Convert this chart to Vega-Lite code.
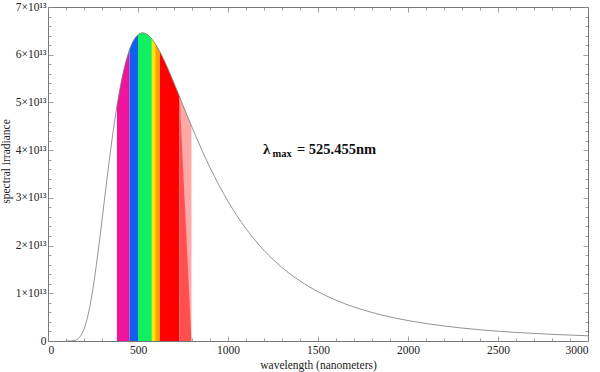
{
  "$schema": "https://vega.github.io/schema/vega-lite/v6.json",
  "width": 540,
  "height": 334,
  "autosize": {"type": "none"},
  "padding": {"left": 48, "top": 7, "right": 12, "bottom": 31},
  "background": "white",
  "config": {
    "view": {"stroke": "#777", "strokeWidth": 1},
    "axis": {"grid": false, "domain": false, "tickColor": "#888", "tickWidth": 0.8, "labelFont": "Liberation Serif", "titleFont": "Liberation Serif", "labelColor": "#222", "titleColor": "#222", "labelFontSize": 11.5, "titleFontSize": 11.5, "titleFontWeight": "normal"}
  },
  "datasets": {
    "curve": [
      {"wavelength": 100, "irradiance": 0},
      {"wavelength": 125, "irradiance": 1.04e10},
      {"wavelength": 150, "irradiance": 1.357e11},
      {"wavelength": 175, "irradiance": 7.518e11},
      {"wavelength": 200, "irradiance": 2.4864e12},
      {"wavelength": 225, "irradiance": 5.8803e12},
      {"wavelength": 250, "irradiance": 1.10691e13},
      {"wavelength": 275, "irradiance": 1.7754e13},
      {"wavelength": 300, "irradiance": 2.53316e13},
      {"wavelength": 325, "irradiance": 3.3154e13},
      {"wavelength": 350, "irradiance": 4.06134e13},
      {"wavelength": 375, "irradiance": 4.73085e13},
      {"wavelength": 400, "irradiance": 5.29365e13},
      {"wavelength": 425, "irradiance": 5.74333e13},
      {"wavelength": 450, "irradiance": 6.07369e13},
      {"wavelength": 475, "irradiance": 6.29682e13},
      {"wavelength": 500, "irradiance": 6.41866e13},
      {"wavelength": 525, "irradiance": 6.46e13},
      {"wavelength": 550, "irradiance": 6.4277e13},
      {"wavelength": 577, "irradiance": 6.32886e13},
      {"wavelength": 600, "irradiance": 6.20354e13},
      {"wavelength": 650, "irradiance": 5.83984e13},
      {"wavelength": 700, "irradiance": 5.40314e13},
      {"wavelength": 750, "irradiance": 4.93996e13},
      {"wavelength": 800, "irradiance": 4.4813e13},
      {"wavelength": 850, "irradiance": 4.04331e13},
      {"wavelength": 900, "irradiance": 3.63633e13},
      {"wavelength": 950, "irradiance": 3.26346e13},
      {"wavelength": 1000, "irradiance": 2.92638e13},
      {"wavelength": 1100, "irradiance": 2.35338e13},
      {"wavelength": 1200, "irradiance": 1.89859e13},
      {"wavelength": 1300, "irradiance": 1.54006e13},
      {"wavelength": 1400, "irradiance": 1.25725e13},
      {"wavelength": 1500, "irradiance": 1.03341e13},
      {"wavelength": 1600, "irradiance": 8.5524e12},
      {"wavelength": 1800, "irradiance": 5.9781e12},
      {"wavelength": 2000, "irradiance": 4.2854e12},
      {"wavelength": 2200, "irradiance": 3.1431e12},
      {"wavelength": 2400, "irradiance": 2.3532e12},
      {"wavelength": 2600, "irradiance": 1.7942e12},
      {"wavelength": 2800, "irradiance": 1.3906e12},
      {"wavelength": 3000, "irradiance": 1.0935e12}
    ],
    "bands": [
      {"band": "violet", "wavelength": 383, "irradiance": 4.92349e13},
      {"band": "violet", "wavelength": 400, "irradiance": 5.29365e13},
      {"band": "violet", "wavelength": 425, "irradiance": 5.74333e13},
      {"band": "violet", "wavelength": 453, "irradiance": 6.10677e13},
      {"band": "blue", "wavelength": 453, "irradiance": 6.10677e13},
      {"band": "blue", "wavelength": 475, "irradiance": 6.29682e13},
      {"band": "blue", "wavelength": 500, "irradiance": 6.41866e13},
      {"band": "green", "wavelength": 500, "irradiance": 6.41866e13},
      {"band": "green", "wavelength": 525, "irradiance": 6.46e13},
      {"band": "green", "wavelength": 550, "irradiance": 6.4277e13},
      {"band": "green", "wavelength": 577, "irradiance": 6.32886e13},
      {"band": "yellow", "wavelength": 577, "irradiance": 6.32886e13},
      {"band": "yellow", "wavelength": 587, "irradiance": 6.27886e13},
      {"band": "yellow", "wavelength": 596, "irradiance": 6.22796e13},
      {"band": "orange", "wavelength": 596, "irradiance": 6.22796e13},
      {"band": "orange", "wavelength": 622, "irradiance": 6.05631e13},
      {"band": "red", "wavelength": 622, "irradiance": 6.05631e13},
      {"band": "red", "wavelength": 650, "irradiance": 5.83984e13},
      {"band": "red", "wavelength": 675, "irradiance": 5.62666e13},
      {"band": "red", "wavelength": 700, "irradiance": 5.40314e13},
      {"band": "red", "wavelength": 731, "irradiance": 5.11677e13},
      {"band": "fade", "wavelength": 731, "irradiance": 5.11677e13},
      {"band": "fade", "wavelength": 750, "irradiance": 4.93996e13},
      {"band": "fade", "wavelength": 775, "irradiance": 4.70863e13},
      {"band": "fade", "wavelength": 797, "irradiance": 4.50856e13}
    ],
    "wedge": [
      {"wavelength": 731, "irradiance": 5.11677e13},
      {"wavelength": 797, "irradiance": 0}
    ],
    "note": [
      {"wavelength": 1194, "irradiance": 3.92e13}
    ]
  },
  "layer": [
    {
      "data": {"name": "bands"},
      "mark": {"type": "area", "interpolate": "monotone"},
      "encoding": {
        "x": {"field": "wavelength", "type": "quantitative", "scale": {"domain": [0, 3000], "nice": false},
              "axis": {"orient": "bottom", "values": [0, 500, 1000, 1500, 2000, 2500, 3000], "format": "d", "ticks": false, "labelPadding": 3, "title": "wavelength (nanometers)", "titlePadding": 4}},
        "y": {"field": "irradiance", "type": "quantitative", "stack": null, "scale": {"domain": [0, 7e13], "nice": false},
              "axis": {"orient": "left", "values": [0, 1e13, 2e13, 3e13, 4e13, 5e13, 6e13, 7e13], "ticks": false, "labelPadding": 2,
                       "labelExpr": "datum.value == 0 ? '0' : format(datum.value / 1e13, 'd') + '×10¹³'",
                       "title": "spectral irradiance", "titleX": -42, "titleY": 154, "titleAlign": "center", "titleBaseline": "middle", "titleAngle": 270}},
        "color": {"field": "band", "type": "nominal", "legend": null,
                  "scale": {"domain": ["violet", "blue", "green", "yellow", "orange", "red", "fade"],
                            "range": ["#f0139b", "#1060f0", "#10f060", "#ffe800", "#ffa000", "#ff0000", "#ffa8a8"]}},
        "detail": {"field": "band"}
      }
    },
    {
      "data": {"name": "wedge"},
      "mark": {"type": "area", "color": "#ff5050", "interpolate": "linear"},
      "encoding": {
        "x": {"field": "wavelength", "type": "quantitative", "scale": {"domain": [0, 3000], "nice": false},
              "axis": {"orient": "bottom", "values": [0, 500, 1000, 1500, 2000, 2500, 3000], "labels": false, "tickSize": -5, "title": null}},
        "y": {"field": "irradiance", "type": "quantitative", "stack": null, "scale": {"domain": [0, 7e13], "nice": false},
              "axis": {"orient": "left", "values": [0, 1e13, 2e13, 3e13, 4e13, 5e13, 6e13, 7e13], "labels": false, "tickSize": -5, "title": null}}
      }
    },
    {
      "data": {"name": "curve"},
      "mark": {"type": "line", "color": "#777", "strokeWidth": 0.8, "interpolate": "monotone"},
      "encoding": {
        "x": {"field": "wavelength", "type": "quantitative", "scale": {"domain": [0, 3000], "nice": false},
              "axis": {"orient": "bottom", "values": [100, 200, 300, 400, 600, 700, 800, 900, 1100, 1200, 1300, 1400, 1600, 1700, 1800, 1900, 2100, 2200, 2300, 2400, 2600, 2700, 2800, 2900], "labels": false, "tickSize": -3, "title": null}},
        "y": {"field": "irradiance", "type": "quantitative", "scale": {"domain": [0, 7e13], "nice": false},
              "axis": {"orient": "left", "values": [2e12, 4e12, 6e12, 8e12, 1.2e13, 1.4e13, 1.6e13, 1.8e13, 2.2e13, 2.4e13, 2.6e13, 2.8e13, 3.2e13, 3.4e13, 3.6e13, 3.8e13, 4.2e13, 4.4e13, 4.6e13, 4.8e13, 5.2e13, 5.4e13, 5.6e13, 5.8e13, 6.2e13, 6.4e13, 6.6e13, 6.8e13], "labels": false, "tickSize": -3, "title": null}}
      }
    },
    {
      "data": {"name": "note"},
      "mark": {"type": "text", "text": "λ", "font": "Liberation Serif", "fontWeight": "bold", "fontSize": 15, "align": "left", "baseline": "alphabetic", "color": "#111"},
      "encoding": {
        "x": {"field": "wavelength", "type": "quantitative", "scale": {"domain": [0, 3000], "nice": false},
              "axis": {"orient": "top", "values": [0, 500, 1000, 1500, 2000, 2500, 3000], "labels": false, "tickSize": -5, "title": null}},
        "y": {"field": "irradiance", "type": "quantitative", "scale": {"domain": [0, 7e13], "nice": false},
              "axis": {"orient": "right", "values": [0, 1e13, 2e13, 3e13, 4e13, 5e13, 6e13, 7e13], "labels": false, "tickSize": -5, "title": null}}
      }
    },
    {
      "data": {"name": "note"},
      "mark": {"type": "text", "text": "max", "font": "Liberation Serif", "fontWeight": "bold", "fontSize": 10.5, "align": "left", "baseline": "alphabetic", "dx": 9.5, "dy": 3, "color": "#111"},
      "encoding": {
        "x": {"field": "wavelength", "type": "quantitative", "scale": {"domain": [0, 3000], "nice": false},
              "axis": {"orient": "top", "values": [100, 200, 300, 400, 600, 700, 800, 900, 1100, 1200, 1300, 1400, 1600, 1700, 1800, 1900, 2100, 2200, 2300, 2400, 2600, 2700, 2800, 2900], "labels": false, "tickSize": -3, "title": null}},
        "y": {"field": "irradiance", "type": "quantitative", "scale": {"domain": [0, 7e13], "nice": false},
              "axis": {"orient": "right", "values": [2e12, 4e12, 6e12, 8e12, 1.2e13, 1.4e13, 1.6e13, 1.8e13, 2.2e13, 2.4e13, 2.6e13, 2.8e13, 3.2e13, 3.4e13, 3.6e13, 3.8e13, 4.2e13, 4.4e13, 4.6e13, 4.8e13, 5.2e13, 5.4e13, 5.6e13, 5.8e13, 6.2e13, 6.4e13, 6.6e13, 6.8e13], "labels": false, "tickSize": -3, "title": null}}
      }
    },
    {
      "data": {"name": "note"},
      "mark": {"type": "text", "text": "= 525.455nm", "font": "Liberation Serif", "fontWeight": "bold", "fontSize": 14.5, "align": "left", "baseline": "alphabetic", "dx": 34, "color": "#111"},
      "encoding": {
        "x": {"field": "wavelength", "type": "quantitative", "scale": {"domain": [0, 3000], "nice": false}, "axis": null},
        "y": {"field": "irradiance", "type": "quantitative", "scale": {"domain": [0, 7e13], "nice": false}, "axis": null}
      }
    }
  ],
  "resolve": {"axis": {"x": "independent", "y": "independent"}}
}
